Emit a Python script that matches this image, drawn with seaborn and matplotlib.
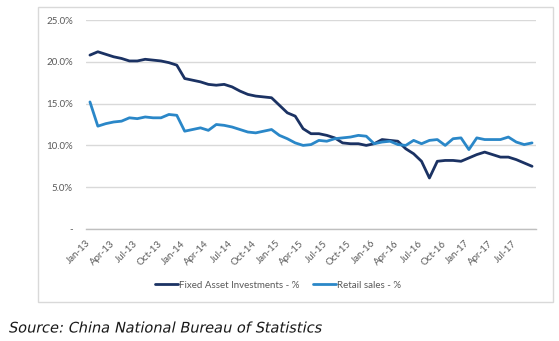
import numpy as np
import pandas as pd
import matplotlib
matplotlib.use("Agg")
import matplotlib.pyplot as plt
import seaborn as sns
from matplotlib.patches import Rectangle
from matplotlib.patheffects import AbstractPathEffect
from matplotlib.transforms import Affine2D

# ---- data ----
months = [f"{m}-{y}" for y in range(13, 18) for m in
          ["Jan", "Feb", "Mar", "Apr", "May", "Jun", "Jul", "Aug", "Sep", "Oct", "Nov", "Dec"]][:57]

fixed_asset = [20.8, 21.2, 20.9, 20.6, 20.4, 20.1, 20.1, 20.3, 20.2, 20.1, 19.9, 19.6,
               18.0, 17.8, 17.6, 17.3, 17.2, 17.3, 17.0, 16.5, 16.1, 15.9, 15.8, 15.7,
               14.8, 13.9, 13.5, 12.0, 11.4, 11.4, 11.2, 10.9, 10.3, 10.2, 10.2, 10.0,
               10.2, 10.7, 10.6, 10.5, 9.6, 9.0, 8.1, 6.1, 8.1, 8.2, 8.2, 8.1,
               8.5, 8.9, 9.2, 8.9, 8.6, 8.6, 8.3, 7.9, 7.5]

retail_sales = [15.2, 12.3, 12.6, 12.8, 12.9, 13.3, 13.2, 13.4, 13.3, 13.3, 13.7, 13.6,
                11.7, 11.9, 12.1, 11.8, 12.5, 12.4, 12.2, 11.9, 11.6, 11.5, 11.7, 11.9,
                11.2, 10.8, 10.3, 10.0, 10.1, 10.6, 10.5, 10.8, 10.9, 11.0, 11.2, 11.1,
                10.2, 10.4, 10.5, 10.1, 10.0, 10.6, 10.2, 10.6, 10.7, 10.0, 10.8, 10.9,
                9.5, 10.9, 10.7, 10.7, 10.7, 11.0, 10.4, 10.1, 10.3]

series_names = ["Fixed Asset Investments - %", "Retail sales - %"]
y_ticks = [0, 5, 10, 15, 20, 25]
y_tick_labels = ["-", "5.0%", "10.0%", "15.0%", "20.0%", "25.0%"]
source_text = "Source: China National Bureau of Statistics"

# ---- build table ----
n = len(months)
pos = np.arange(n) + 0.5
df = pd.concat([
    pd.DataFrame({"pos": pos, "value": fixed_asset, "series": series_names[0]}),
    pd.DataFrame({"pos": pos, "value": retail_sales, "series": series_names[1]}),
])

sns.set_style("white")
plt.rcParams["font.family"] = ["Lato", "DejaVu Sans"]

W, H = 559, 341
fig = plt.figure(figsize=(W / 100, H / 100), dpi=100)
ax = fig.add_axes([86 / W, 1 - 229 / H, (536 - 86) / W, (229 - 20) / H])

palette = {series_names[0]: "#1b3263", series_names[1]: "#2a87c8"}
sns.lineplot(data=df, x="pos", y="value", hue="series", palette=palette,
             linewidth=2.0, ax=ax, legend=True)

ax.set_xlim(0, n)
ax.set_ylim(0, 25)
ax.set_yticks(y_ticks)
ax.set_yticklabels(y_tick_labels, color="#595959", fontsize=7)
ax.yaxis.grid(True, color="#d9d9d9", linewidth=1)
ax.set_axisbelow(True)
ax.tick_params(axis="y", length=0, pad=9.5)

xt = list(range(0, n + 1, 3))
ax.set_xticks(xt)
xl = [months[i] if i < n else "" for i in xt]
ax.set_xticklabels(xl, rotation=45, ha="right", rotation_mode="anchor",
                   color="#595959", fontsize=7)
ax.tick_params(axis="x", length=4, width=1, color="#bfbfbf", direction="out", pad=3)

for s in ["top", "right", "left"]:
    ax.spines[s].set_visible(False)
ax.spines["bottom"].set_color("#bfbfbf")
ax.spines["bottom"].set_linewidth(1)
ax.set_xlabel("")
ax.set_ylabel("")

# legend below plot
h, l = ax.get_legend_handles_labels()
ax.legend_.remove()
leg = fig.legend(h, l, loc="center", bbox_to_anchor=(278 / W, 1 - 285 / H), ncol=2,
                 frameon=False, fontsize=7, handlelength=2.3, handletextpad=0.1,
                 columnspacing=1.5, labelcolor="#595959")

# chart border
fig.patches.append(Rectangle((38 / W, 1 - 302 / H), (553 - 38) / W, (302 - 7) / H,
                             transform=fig.transFigure, fill=False,
                             edgecolor="#d9d9d9", linewidth=1))


class Slant(AbstractPathEffect):
    """Draw glyphs with a slant (synthetic italic)."""
    def __init__(self, deg=12):
        super().__init__()
        self.deg = deg

    def draw_path(self, renderer, gc, tpath, affine, rgbFace=None):
        renderer.draw_path(gc, tpath, Affine2D().skew_deg(self.deg, 0) + affine, rgbFace)


fig.text(8 / W, 1 - 328 / H, source_text, fontsize=10.5, family=["DejaVu Sans"],
         color="#1a1a1a", va="center", ha="left", path_effects=[Slant(12)])

fig.savefig("out.png", dpi=100, facecolor="white")
